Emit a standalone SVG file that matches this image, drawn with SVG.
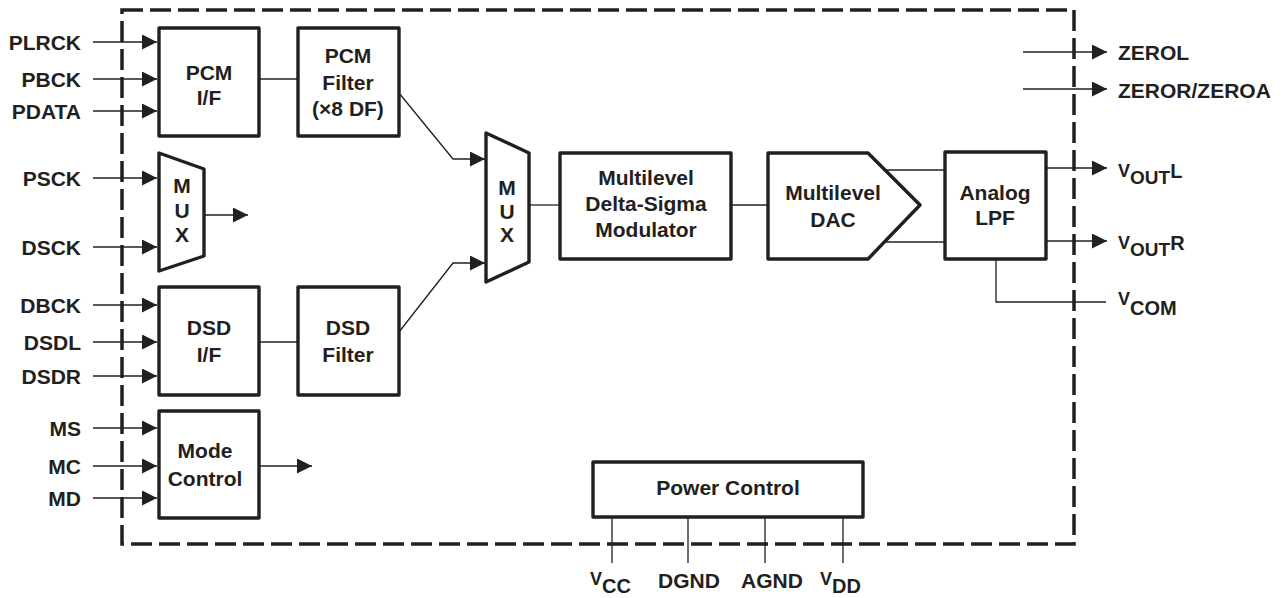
<svg xmlns="http://www.w3.org/2000/svg" width="1283" height="598" viewBox="0 0 1283 598">
<style>
text{font-family:"Liberation Sans",Arial,sans-serif;font-weight:bold;fill:#231f20;font-size:21px}
.box{fill:#fff;stroke:#231f20;stroke-width:3.4;stroke-linejoin:round}
.ln{fill:none;stroke:#231f20;stroke-width:1.3}
.c{text-anchor:middle}
.r{text-anchor:end}
.border{fill:none;stroke:#231f20;stroke-width:3.5;stroke-dasharray:21 7}
</style>
<defs>
<marker id="ah" viewBox="0 0 15 15" refX="15" refY="7.5" markerWidth="15" markerHeight="15" markerUnits="userSpaceOnUse" orient="auto">
<path d="M0,0 L15,7.5 L0,15 Z" fill="#231f20"/>
</marker>
</defs>
<rect class="border" x="122" y="10" width="952" height="534"/>
<g id="connectors">
<path class="ln" marker-end="url(#ah)" d="M93,42 H157"/>
<path class="ln" marker-end="url(#ah)" d="M93,79 H157"/>
<path class="ln" marker-end="url(#ah)" d="M93,111 H157"/>
<path class="ln" marker-end="url(#ah)" d="M93,178 H157"/>
<path class="ln" marker-end="url(#ah)" d="M93,247 H157"/>
<path class="ln" marker-end="url(#ah)" d="M93,305 H157"/>
<path class="ln" marker-end="url(#ah)" d="M93,342 H157"/>
<path class="ln" marker-end="url(#ah)" d="M93,376 H157"/>
<path class="ln" marker-end="url(#ah)" d="M93,428 H157"/>
<path class="ln" marker-end="url(#ah)" d="M93,466 H157"/>
<path class="ln" marker-end="url(#ah)" d="M93,498 H157"/>
<path class="ln" d="M259,79 H298"/>
<path class="ln" d="M259,342 H298"/>
<path class="ln" marker-end="url(#ah)" d="M204,215 H248"/>
<path class="ln" marker-end="url(#ah)" d="M259,466 H312"/>
<path class="ln" marker-end="url(#ah)" d="M399,93 L453,159 H485"/>
<path class="ln" marker-end="url(#ah)" d="M399,332 L453,263 H485"/>
<path class="ln" d="M529,205 H560"/>
<path class="ln" d="M731,205 H768"/>
<path class="ln" d="M885,170 H945"/>
<path class="ln" d="M885,242 H945"/>
<path class="ln" marker-end="url(#ah)" d="M1046,168 H1107"/>
<path class="ln" marker-end="url(#ah)" d="M1046,241 H1107"/>
<path class="ln" d="M996,259 V302 H1106"/>
<path class="ln" marker-end="url(#ah)" d="M1023,52 H1107"/>
<path class="ln" marker-end="url(#ah)" d="M1023,89 H1107"/>
<path class="ln" d="M612,517 V563 M688,517 V563 M765,517 V563 M843,517 V563"/>
</g>
<g id="labels-in">
<text class="r" x="81" y="50">PLRCK</text>
<text class="r" x="81" y="87">PBCK</text>
<text class="r" x="81" y="119">PDATA</text>
<text class="r" x="81" y="186">PSCK</text>
<text class="r" x="81" y="255">DSCK</text>
<text class="r" x="81" y="313">DBCK</text>
<text class="r" x="81" y="350">DSDL</text>
<text class="r" x="81" y="384">DSDR</text>
<text class="r" x="81" y="436">MS</text>
<text class="r" x="81" y="474">MC</text>
<text class="r" x="81" y="506">MD</text>
</g>
<g id="pcm-if">
<rect class="box" x="159" y="28" width="100" height="108"/>
<text class="c" x="209" y="80">PCM</text>
<text class="c" x="209" y="105">I/F</text>
</g>
<g id="pcm-filter">
<rect class="box" x="298" y="28" width="101" height="108"/>
<text class="c" x="348" y="63">PCM</text>
<text class="c" x="348" y="90">Filter</text>
<text class="c" x="348" y="116">(×8 DF)</text>
</g>
<g id="mux-clk">
<path class="box" d="M159,153 L204,169 V256 L159,271 Z"/>
<text class="c" x="182" y="193">M</text>
<text class="c" x="182" y="218">U</text>
<text class="c" x="182" y="242">X</text>
</g>
<g id="dsd-if">
<rect class="box" x="159" y="287" width="100" height="108"/>
<text class="c" x="209" y="335">DSD</text>
<text class="c" x="209" y="362">I/F</text>
</g>
<g id="dsd-filter">
<rect class="box" x="298" y="287" width="101" height="108"/>
<text class="c" x="348" y="335">DSD</text>
<text class="c" x="348" y="362">Filter</text>
</g>
<g id="mode-control">
<rect class="box" x="159" y="411" width="100" height="107"/>
<text class="c" x="205" y="458">Mode</text>
<text class="c" x="205" y="486">Control</text>
</g>
<g id="mux-main">
<path class="box" d="M486,133 L529,153 V262 L486,282 Z"/>
<text class="c" x="507" y="195">M</text>
<text class="c" x="507" y="219">U</text>
<text class="c" x="507" y="242">X</text>
</g>
<g id="modulator">
<rect class="box" x="560" y="153" width="171" height="106"/>
<text class="c" x="646" y="185">Multilevel</text>
<text class="c" x="646" y="211">Delta-Sigma</text>
<text class="c" x="646" y="237">Modulator</text>
</g>
<g id="dac">
<path class="box" d="M768,153 H868 L920,205 L868,259 H768 Z"/>
<text class="c" x="833" y="200">Multilevel</text>
<text class="c" x="833" y="227">DAC</text>
</g>
<g id="lpf">
<rect class="box" x="945" y="152" width="101" height="107"/>
<text class="c" x="995" y="200">Analog</text>
<text class="c" x="995" y="225">LPF</text>
</g>
<g id="power-control">
<rect class="box" x="593" y="462" width="270" height="55"/>
<text class="c" x="728" y="495">Power Control</text>
</g>
<g id="labels-out">
<text x="1118" y="60">ZEROL</text>
<text x="1118" y="98">ZEROR/ZEROA</text>
<text x="1118" y="177"><tspan font-size="18">V</tspan><tspan font-size="19" dy="7">OUT</tspan><tspan font-size="20" dy="-6">L</tspan></text>
<text x="1118" y="249"><tspan font-size="18">V</tspan><tspan font-size="19" dy="7">OUT</tspan><tspan font-size="20" dy="-6">R</tspan></text>
<text x="1118" y="305"><tspan font-size="18">V</tspan><tspan font-size="20" dy="10">COM</tspan></text>
<text x="590" y="585"><tspan font-size="18">V</tspan><tspan font-size="20" dy="8">CC</tspan></text>
<text class="c" x="689" y="588">DGND</text>
<text class="c" x="772" y="588">AGND</text>
<text x="820" y="585"><tspan font-size="18">V</tspan><tspan font-size="20" dy="8">DD</tspan></text>
</g>
</svg>
